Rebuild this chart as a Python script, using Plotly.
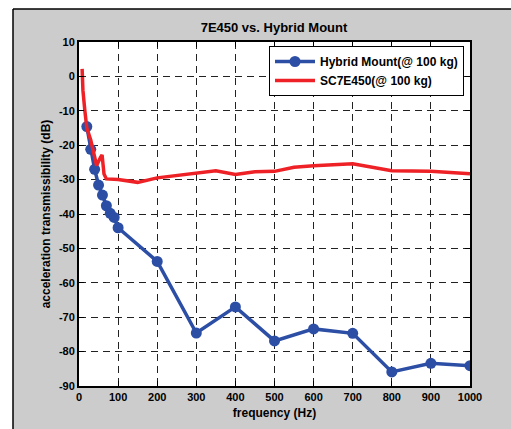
import plotly.graph_objects as go

hybrid_freq = [20, 30, 40, 50, 60, 70, 80, 90, 100, 200, 300, 400, 500, 600, 700, 800, 900, 1000]
hybrid_db = [-14.6, -21.2, -27.0, -31.6, -34.5, -37.6, -39.8, -41.0, -44.0, -53.8, -74.6, -67.0, -76.9, -73.4, -74.7, -85.9, -83.4, -84.1]

sc_freq = [8, 10, 15, 20, 30, 45, 55, 59, 64, 70, 100, 150, 200, 250, 300, 350, 400, 450, 500, 550, 600, 700, 800, 900, 1000]
sc_db = [2.2, -4.0, -10.0, -15.0, -18.5, -25.9, -23.5, -22.8, -28.4, -29.8, -30.0, -30.8, -29.5, -28.8, -28.0, -27.4, -28.5, -27.7, -27.6, -26.4, -26.0, -25.4, -27.4, -27.6, -28.3]

x_ticks = list(range(0, 1001, 100))
y_ticks = list(range(-90, 11, 10))

W, H = 511, 429
ML, MR, MT, MB = 79, 41, 42, 43
PW, PH = W - ML - MR, H - MT - MB


def px(x):
    return (x - ML) / PW


def py(y):
    return (H - MB - y) / PH


FONT = "Liberation Sans, Arial, Helvetica, sans-serif"

fig = go.Figure()
fig.add_trace(go.Scatter(
    x=hybrid_freq, y=hybrid_db, mode="lines+markers",
    name="Hybrid Mount(@ 100 kg)",
    line=dict(color="#2c4ea5", width=3.5),
    marker=dict(color="#2c4ea5", size=11),
))
fig.add_trace(go.Scatter(
    x=sc_freq, y=sc_db, mode="lines",
    name="SC7E450(@ 100 kg)",
    line=dict(color="#ee2226", width=3.5),
))

axis_common = dict(
    showline=True, linecolor="black", linewidth=2, mirror="allticks",
    ticks="inside", ticklen=5, tickcolor="black", tickwidth=1,
    showgrid=True, gridcolor="#222222", gridwidth=1.2, griddash="7px,5px",
    zeroline=False,
    tickfont=dict(family=FONT, size=11, color="black", weight="bold"),
)

fig.update_xaxes(
    range=[0, 1000], tickvals=x_ticks, ticktext=[str(v) for v in x_ticks],
    title=dict(text="frequency (Hz)", font=dict(family=FONT, size=12, color="black", weight="bold"), standoff=6),
    **axis_common,
)
fig.update_yaxes(
    range=[-90, 10], tickvals=y_ticks, ticktext=[str(v) for v in y_ticks],
    title=dict(text="acceleration transmissibility (dB)", font=dict(family=FONT, size=12, color="black", weight="bold"), standoff=6),
    **axis_common,
)

shapes = [
    dict(type="rect", xref="paper", yref="paper", x0=px(0), x1=px(13), y0=py(H + 5), y1=py(-5),
         fillcolor="white", line=dict(width=0), layer="below"),
    dict(type="rect", xref="paper", yref="paper", x0=px(0), x1=px(W + 5), y0=py(9), y1=py(-5),
         fillcolor="white", line=dict(width=0), layer="below"),
    dict(type="line", xref="paper", yref="paper", x0=px(13), x1=px(13), y0=py(9), y1=py(H + 5),
         line=dict(color="black", width=1.5)),
    dict(type="line", xref="paper", yref="paper", x0=px(13), x1=px(W + 5), y0=py(9), y1=py(9),
         line=dict(color="black", width=1.5)),
]

fig.update_layout(
    width=W, height=H,
    margin=dict(l=ML, r=MR, t=MT, b=MB),
    paper_bgcolor="#cccccc", plot_bgcolor="white",
    font=dict(family=FONT, color="black"),
    title=dict(text="7E450 vs. Hybrid Mount", x=px(274), xanchor="center", xref="paper",
               y=1 - 27 / H, yanchor="middle",
               font=dict(family=FONT, size=13, color="black", weight="bold")),
    legend=dict(x=px(464), xanchor="right", y=py(46), yanchor="top",
                bgcolor="white", bordercolor="black", borderwidth=1,
                font=dict(family=FONT, size=12, color="black", weight="bold"),
                tracegroupgap=0, itemwidth=40),
    showlegend=True,
    shapes=shapes,
)

fig.write_html("out.html")
